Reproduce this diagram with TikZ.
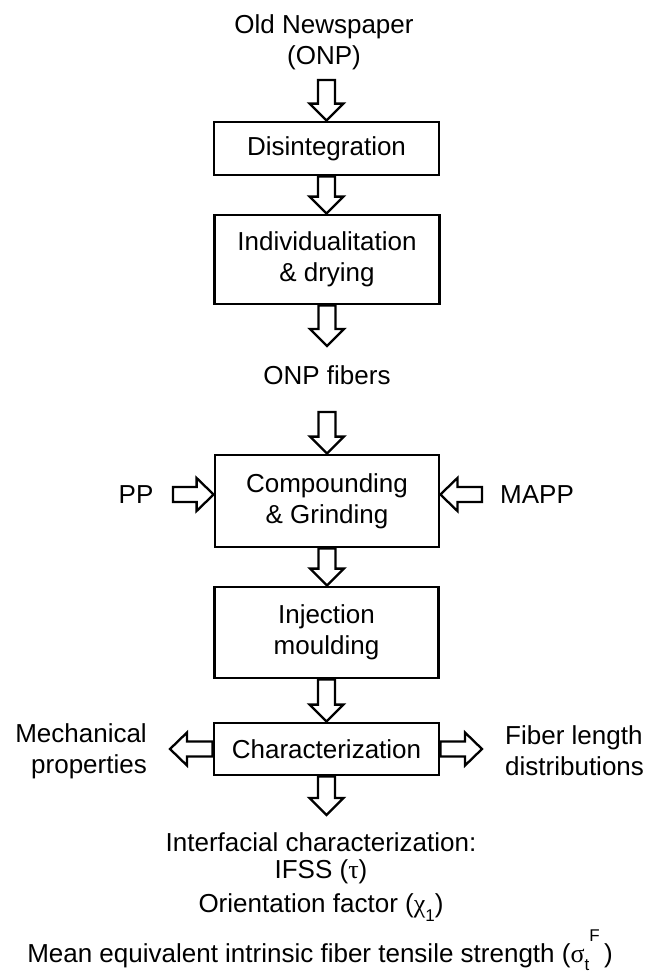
\documentclass[tikz,border=0pt]{standalone}
\usepackage{fontspec}
\setmainfont{Liberation Sans}
\newfontfamily\grk{Liberation Serif}
\usetikzlibrary{calc}
\pgfdeclarelayer{bg}
\pgfsetlayers{bg,main}
\tikzset{
  boxnode/.style={draw, line width=2.8pt, fill=white, inner sep=0pt, align=center, font=\fontsize{26}{31}\selectfont},
  lbl/.style={inner sep=0pt, align=center, font=\fontsize{26}{31}\selectfont},
  barrow/.style={draw, line width=2.3pt, fill=white, line join=miter}
}
\newcommand\vblock[2]{\begin{pgfonlayer}{bg}\draw[barrow] let \p1=(#1), \p2=(#2) in
  (\x1-8.5pt,\y1) -- (\x1-8.5pt,\y2+17pt) -- (\x1-17pt,\y2+17pt) -- (\x1,\y2) --
  (\x1+17pt,\y2+17pt) -- (\x1+8.5pt,\y2+17pt) -- (\x1+8.5pt,\y1) -- cycle;\end{pgfonlayer}}
\newcommand\rblock[2]{\begin{pgfonlayer}{bg}\draw[barrow] let \p1=(#1), \p2=(#2) in
  (\x1,\y1+7.5pt) -- (\x2-17pt,\y1+7.5pt) -- (\x2-17pt,\y1+16.5pt) -- (\x2,\y1) --
  (\x2-17pt,\y1-16.5pt) -- (\x2-17pt,\y1-7.5pt) -- (\x1,\y1-7.5pt) -- cycle;\end{pgfonlayer}}
\newcommand\lblock[2]{\begin{pgfonlayer}{bg}\draw[barrow] let \p1=(#1), \p2=(#2) in
  (\x1,\y1+7.5pt) -- (\x2+17pt,\y1+7.5pt) -- (\x2+17pt,\y1+16.5pt) -- (\x2,\y1) --
  (\x2+17pt,\y1-16.5pt) -- (\x2+17pt,\y1-7.5pt) -- (\x1,\y1-7.5pt) -- cycle;\end{pgfonlayer}}
\begin{document}
\begin{tikzpicture}[x=1pt,y=1pt]
\useasboundingbox (0,0) rectangle (650,-972);

\node[lbl] (onp) at (324,-42.5) {Old Newspaper\\(ONP)};
\coordinate (a1s) at (326.5,-80);
\node[boxnode, minimum width=225pt, minimum height=53pt] (dis) at (326.5,-148.5) {Disintegration};
\node[boxnode, minimum width=225pt, minimum height=89pt] (ind) at (327,-259.5) {Individualitation\\\& drying};
\coordinate (a3e) at (327,-346);
\node[lbl] (fib) at (327,-375) {ONP fibers};
\coordinate (a4s) at (327,-412);
\node[boxnode, minimum width=224pt, minimum height=92pt] (cmp) at (327,-501) {Compounding\\\& Grinding};
\node[lbl] (pp) at (136,-494.5) {PP};
\coordinate (pps) at (173,-494.5);
\node[lbl, anchor=west] (mapp) at (500,-494.5) {MAPP};
\coordinate (mapps) at (482,-494.5);
\node[boxnode, minimum width=224pt, minimum height=91pt] (inj) at (326.5,-632.5) {Injection\\moulding};
\node[boxnode, minimum width=225pt, minimum height=52pt] (chr) at (326.5,-749) {Characterization};
\coordinate (mece) at (170,-749);
\node[lbl, anchor=east, align=right] (mec) at (147,-751) {Mechanical\\properties};
\coordinate (flde) at (482,-749);
\node[lbl, anchor=west, align=left] (fld) at (505,-751) {Fiber length\\distributions};
\coordinate (a7e) at (326.5,-815);
\node[lbl] (ifc) at (321,-842) {Interfacial characterization:};
\node[lbl] (ifs) at (321,-872) {IFSS ({\grk τ})};
\node[lbl] (ori) at (321,-908) {Orientation factor ({\grk χ}\raisebox{-9pt}{\fontsize{17}{17}\selectfont 1})};
\node[lbl] (mea) at (320,-950) {Mean equivalent intrinsic fiber tensile strength ({\grk σ}\rlap{\raisebox{-8pt}{\fontsize{17}{17}\selectfont t}}\raisebox{21pt}{\fontsize{17}{17}\selectfont\ F}\,)};

\vblock{a1s}{dis.north}
\vblock{dis.south}{ind.north}
\vblock{ind.south}{a3e}
\vblock{a4s}{cmp.north}
\rblock{pps}{cmp.west |- pps}
\lblock{mapps}{cmp.east |- mapps}
\vblock{cmp.south}{inj.north}
\vblock{inj.south}{chr.north}
\lblock{chr.west}{mece}
\rblock{chr.east}{flde}
\vblock{chr.south}{a7e}
\end{tikzpicture}
\end{document}
